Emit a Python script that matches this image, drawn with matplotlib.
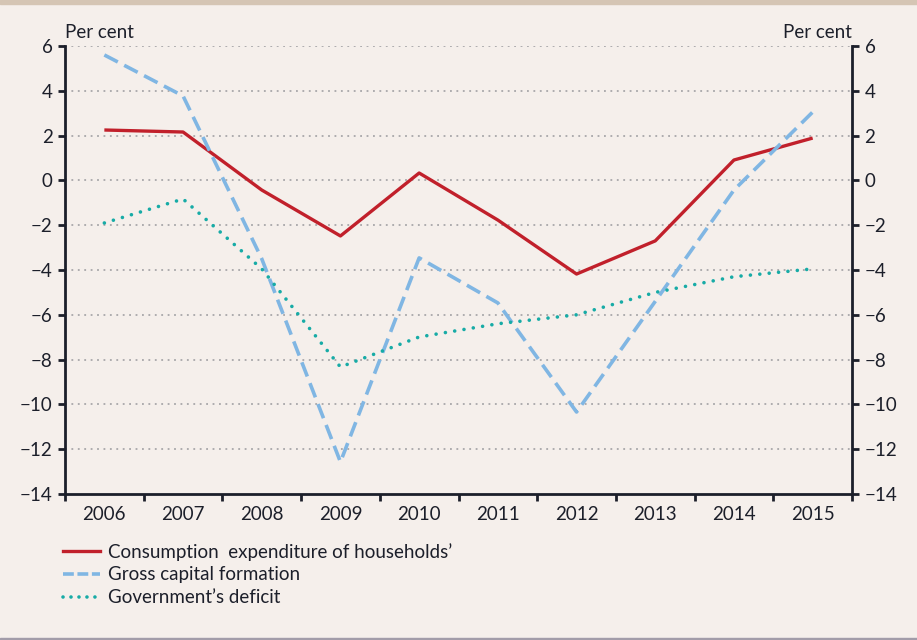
import matplotlib.pyplot as plt
from matplotlib.lines import Line2D
import numpy as np

plt.rcParams['font.family'] = ['Lato', 'DejaVu Sans']

years = ['2006', '2007', '2008', '2009', '2010', '2011', '2012', '2013', '2014', '2015']
consumption = [2.25, 2.16, -0.43, -2.48, 0.33, -1.77, -4.18, -2.70, 0.91, 1.89]
capital = [5.6, 3.77, -3.5, -12.57, -3.46, -5.47, -10.34, -5.4, -0.43, 3.05]
deficit = [-1.9, -0.83, -3.95, -8.33, -6.99, -6.4, -6.0, -5.0, -4.3, -3.95]

bg = '#f5efeb'
red = '#c1202b'
blue = '#80b6e3'
teal = '#17aba6'
ink = '#1c1f2a'
fs = 13.5

fig = plt.figure(figsize=(9.17, 6.4), dpi=100, facecolor=bg)
ax = fig.add_axes([65 / 917, 1 - 494 / 640, 787 / 917, 448 / 640], facecolor=bg)

x = np.arange(len(years))
ax.plot(x, consumption, color=red, lw=2.4, solid_capstyle='butt', zorder=3)
ax.plot(x, capital, color=blue, lw=2.6, dashes=(4.2, 2.0), zorder=3)
ax.plot(x, deficit, color=teal, lw=2.6, dashes=(0.01, 2.6), dash_capstyle='round', zorder=3)

ax.set_xlim(-0.5, 9.5)
ax.set_ylim(-14, 6)
yt = np.arange(-14, 7, 2)
ax.set_yticks(yt)
ax.set_yticklabels([str(v).replace('-', '\u2212') for v in yt])
for v in yt[1:]:
    ax.axhline(v, color='#9a9a9e', lw=1.1, dashes=(1.2, 3.0), zorder=1)

ax.set_xticks(x)
ax.set_xticklabels(years)
ax.set_xticks(np.arange(-0.5, 10, 1), minor=True)
ax.tick_params(axis='x', which='major', length=0, pad=9, labelsize=fs, colors=ink)
ax.tick_params(axis='x', which='minor', length=5, width=2, direction='out', color=ink)
ax.tick_params(axis='y', length=5, width=2, direction='out', color=ink,
               right=True, labelright=True, labelsize=fs, labelcolor=ink, pad=4)

ax.spines['top'].set_visible(False)
for s in ['left', 'right', 'bottom']:
    ax.spines[s].set_color(ink)
    ax.spines[s].set_linewidth(2)

ax.text(0, 1.012, 'Per cent', transform=ax.transAxes, ha='left', va='bottom',
        fontsize=fs, color=ink)
ax.text(1, 1.012, 'Per cent', transform=ax.transAxes, ha='right', va='bottom',
        fontsize=fs, color=ink)

handles = [
    Line2D([], [], color=red, lw=2.4),
    Line2D([], [], color=blue, lw=2.6, dashes=(3, 1)),
    Line2D([], [], color=teal, lw=2.6, dashes=(0.01, 2.2), dash_capstyle='round'),
]
labels = ['Consumption  expenditure of households\u2019', 'Gross capital formation',
          'Government\u2019s deficit']
fig.legend(handles, labels, loc='upper left', bbox_to_anchor=(63 / 917, 1 - 543 / 640),
           frameon=False, fontsize=fs, handlelength=1.95, handletextpad=0.45,
           labelspacing=0.3, labelcolor=ink, borderaxespad=0, borderpad=0)

# top band and bottom rule
fig.patches.append(plt.Rectangle((0, 1 - 4 / 640), 1, 4 / 640, transform=fig.transFigure,
                                 color='#d5c5b4', zorder=0))
fig.patches.append(plt.Rectangle((0, 0), 1, 2 / 640, transform=fig.transFigure,
                                 color='#a29ca9', zorder=0))

fig.savefig('out.png', dpi=100, facecolor=bg)
